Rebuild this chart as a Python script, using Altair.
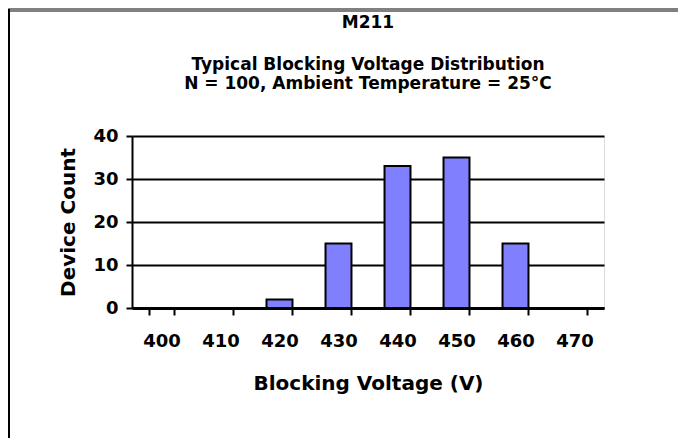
import altair as alt
import pandas as pd

voltages = ["400", "410", "420", "430", "440", "450", "460", "470"]
counts = [0, 0, 2, 15, 33, 35, 15, 0]
y_ticks = [0, 10, 20, 30, 40]

title_text = "M211"
subtitle_lines = ["Typical Blocking Voltage Distribution",
                  "N = 100, Ambient Temperature = 25°C"]

df = pd.DataFrame({"voltage": voltages, "count": counts})
FONT = "DejaVu Sans"

bars = alt.Chart(df).mark_bar(color="#8080FF", stroke="black", strokeWidth=2).encode(
    x=alt.X("voltage:N", sort=voltages, title="Blocking Voltage (V)",
            scale=alt.Scale(paddingInner=0.56, paddingOuter=0.28),
            axis=alt.Axis(labelAngle=0, tickBand="extent", domainColor="black",
                          domainWidth=3, tickColor="black", tickWidth=2, tickSize=7,
                          labelFont=FONT, labelFontSize=18, labelFontWeight="bold",
                          labelColor="black", labelPadding=17,
                          titleFont=FONT, titleFontSize=20, titleFontWeight="bold",
                          titleColor="black", titlePadding=23)),
    y=alt.Y("count:Q", title="Device Count",
            scale=alt.Scale(domain=[0, 40]),
            axis=alt.Axis(values=y_ticks, grid=True, gridColor="black", gridWidth=2,
                          domainColor="black", domainWidth=2, tickColor="black",
                          tickWidth=2, tickSize=6,
                          labelFont=FONT, labelFontSize=18, labelFontWeight="bold",
                          labelColor="black", labelPadding=8,
                          titleFont=FONT, titleFontSize=20, titleFontWeight="bold",
                          titleColor="black", titlePadding=14)),
)

one = pd.DataFrame({"k": [0]})
border_top = alt.Chart(one).mark_rule(color="#808080", strokeWidth=4).encode(
    x=alt.value(-124), x2=alt.value(546), y=alt.value(-126))
border_left = alt.Chart(one).mark_rule(color="black", strokeWidth=2).encode(
    x=alt.value(-123), y=alt.value(-127), y2=alt.value(302))

chart = alt.layer(bars, border_top, border_left).properties(
    width=472, height=172,
    title=alt.TitleParams(text=title_text, subtitle=subtitle_lines,
                          font=FONT, fontSize=17, fontWeight="bold", color="black",
                          subtitleFont=FONT, subtitleFontSize=17,
                          subtitleFontWeight="bold", subtitleColor="black",
                          subtitlePadding=25, subtitleLineHeight=19,
                          anchor="middle", frame="group", offset=-85),
    autosize=alt.AutoSizeParams(type="none"),
    padding={"left": 124, "top": 128, "right": 74, "bottom": 130},
).configure_view(stroke=None).configure(background="white")

chart.save("out.html", embed_options={"renderer": "svg", "actions": False})
